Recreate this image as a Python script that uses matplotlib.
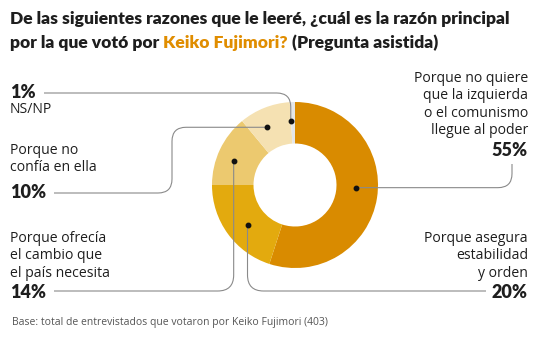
import matplotlib
matplotlib.use("Agg")
import matplotlib.pyplot as plt
import numpy as np
from matplotlib.path import Path
from matplotlib.patches import PathPatch

# ---- data ----
categories = [
    "Porque no quiere\nque la izquierda\no el comunismo\nllegue al poder",
    "Porque asegura\nestabilidad\ny orden",
    "Porque ofrecía\nel cambio que\nel país necesita",
    "Porque no\nconfía en ella",
    "NS/NP",
]
values = [55, 20, 14, 10, 1]
pct_labels = ["55%", "20%", "14%", "10%", "1%"]

title_line1 = "De las siguientes razones que le leeré, ¿cuál es la razón principal"
title_line2_a = "por la que votó por "
title_line2_b = "Keiko Fujimori?"
title_line2_c = " (Pregunta asistida)"
footnote = "Base: total de entrevistados que votaron por Keiko Fujimori (403)"

# ---- style ----
colors = ["#D98B00", "#E3AA0E", "#ECC96F", "#F5E1B2", "#E4E6E8"]
W, H = 538, 340
FONT = "Open Sans"
HEAVY = "Lato"
line_color = "#8a8a8a"
text_color = "#1e1e1e"

fig = plt.figure(figsize=(W / 100, H / 100), dpi=100)
ax = fig.add_axes([0, 0, 1, 1])
ax.set_xlim(0, W)
ax.set_ylim(H, 0)
ax.set_aspect("equal")
ax.axis("off")

cx, cy, R = 295, 185, 83
wedges, _ = ax.pie(values, colors=colors, startangle=-90, counterclock=True,
                   center=(cx, cy), radius=R, normalize=True,
                   wedgeprops=dict(width=R * 0.5, linewidth=0))
ax.set_xlim(0, W)
ax.set_ylim(H, 0)

def ring_point(theta_deg, r):
    t = np.deg2rad(theta_deg)
    return cx + r * np.sin(t), cy - r * np.cos(t)

cum = np.cumsum([0] + values)
total = cum[-1]
mids = [(cum[i] + cum[i + 1]) / 2 / total * 360 for i in range(len(values))]
dot_angle = [92.5, mids[1] - 4, mids[2] - 3.5, mids[3] - 4, mids[4] - 2]
dot_r = [61, 62, 66, 64, 64]
dots = [ring_point(a, r) for a, r in zip(dot_angle, dot_r)]

def rounded_path(pts, rad=14):
    verts = [pts[0]]
    codes = [Path.MOVETO]
    for i in range(1, len(pts) - 1):
        p0, p1, p2 = map(np.array, (pts[i - 1], pts[i], pts[i + 1]))
        d1 = (p1 - p0) / np.linalg.norm(p1 - p0)
        d2 = (p2 - p1) / np.linalg.norm(p2 - p1)
        a = p1 - d1 * rad
        b = p1 + d2 * rad
        verts += [tuple(a), tuple(p1), tuple(b)]
        codes += [Path.LINETO, Path.CURVE3, Path.CURVE3]
    verts.append(pts[-1])
    codes.append(Path.LINETO)
    ax.add_patch(PathPatch(Path(verts, codes), fill=False, edgecolor=line_color,
                           linewidth=0.8, capstyle="butt", zorder=3))

d55, d20, d14, d10, d01 = dots
rounded_path([d55, (512, d55[1]), (512, 164)], rad=14)
rounded_path([d20, (d20[0], 291), (486, 291)], rad=16)
rounded_path([d14, (d14[0], 291), (54, 291)], rad=16)
rounded_path([d10, (172, d10[1]), (172, 193), (54, 193)], rad=14)
rounded_path([d01, (d01[0], 93), (44, 93)], rad=14)

for (x, y) in dots:
    ax.plot(x, y, "o", color="#111111", markersize=3.2, zorder=4)

body = dict(family=FONT, fontsize=10.1, color=text_color, linespacing=1.22)
bold = dict(family=HEAVY, fontsize=13, color=text_color, fontweight="heavy")

ax.text(528, 71, categories[0], ha="right", va="top", multialignment="right", **body)
ax.text(528, 150, pct_labels[0], ha="right", va="center", **bold)
ax.text(528, 231, categories[1], ha="right", va="top", multialignment="right", **body)
ax.text(528, 292, pct_labels[1], ha="right", va="center", **bold)
ax.text(10, 231, categories[2], ha="left", va="top", **body)
ax.text(10, 292, pct_labels[2], ha="left", va="center", **bold)
ax.text(10, 143, categories[3], ha="left", va="top", **body)
ax.text(10, 193, pct_labels[3], ha="left", va="center", **bold)
ax.text(10, 93, pct_labels[4], ha="left", va="center", **bold)
ax.text(10, 102, categories[4], ha="left", va="top", **body)

tstyle = dict(family=HEAVY, fontsize=12.6, fontweight="heavy", va="baseline")
ax.text(10, 24, title_line1, color=text_color, **tstyle)
fig.canvas.draw()
r = fig.canvas.get_renderer()
inv = ax.transData.inverted()
t1 = ax.text(10, 48, title_line2_a, color=text_color, **tstyle)
x1 = inv.transform(t1.get_window_extent(r))[1][0]
t2 = ax.text(x1, 48, title_line2_b, color="#E08D00", **tstyle)
x2 = inv.transform(t2.get_window_extent(r))[1][0]
ax.text(x2, 48, title_line2_c, color=text_color, **tstyle)

ax.text(12, 322, footnote, family=FONT, fontsize=7.5, color="#555555", va="center")

fig.savefig("out.png", dpi=100)
